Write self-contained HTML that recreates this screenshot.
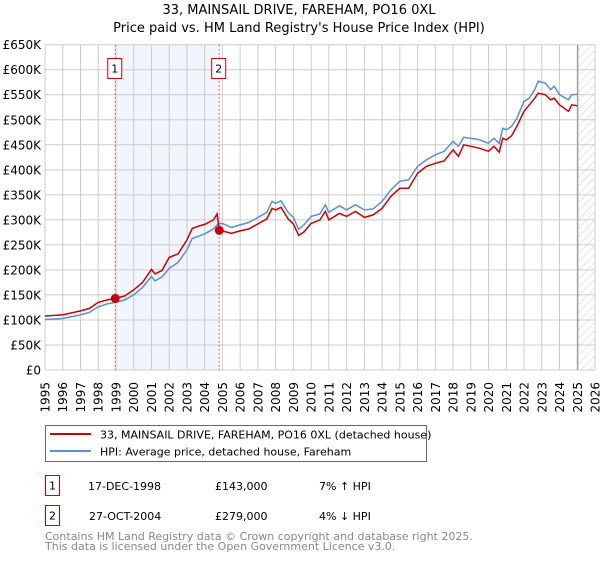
<!DOCTYPE html>
<html><head><meta charset="utf-8"><style>
body{margin:0;background:#fff;width:600px;height:560px;overflow:hidden}
svg text{font-family:"DejaVu Sans","Liberation Sans",sans-serif}
</style></head><body>
<svg id="chart" width="600" height="560" viewBox="0 0 600 560">
<defs><pattern id="hatch" width="6" height="6" patternUnits="userSpaceOnUse" patternTransform="rotate(45)"><line x1="0" y1="0" x2="0" y2="6" stroke="#ccc" stroke-width="1"/></pattern></defs>
<text x="299" y="14" text-anchor="middle" font-size="13">33, MAINSAIL DRIVE, FAREHAM, PO16 0XL</text>
<text x="299" y="32" text-anchor="middle" font-size="13">Price paid vs. HM Land Registry's House Price Index (HPI)</text>
<g id="plot"></g>
<g>
<rect x="45.5" y="425.5" width="381" height="36" fill="#fff" stroke="#666"/>
<line x1="50" y1="434" x2="91" y2="434" stroke="#cc0000" stroke-width="2"/>
<text x="100" y="438.5" font-size="11">33, MAINSAIL DRIVE, FAREHAM, PO16 0XL (detached house)</text>
<line x1="50" y1="451" x2="91" y2="451" stroke="#5b8fd4" stroke-width="2"/>
<text x="100" y="455.5" font-size="11">HPI: Average price, detached house, Fareham</text>
</g>
<g font-size="11">
<rect x="45.5" y="475.5" width="14" height="20" fill="#fff" stroke="#cc0000"/>
<text x="52.5" y="489.5" text-anchor="middle">1</text>
<text x="88" y="490">17-DEC-1998</text>
<text x="215" y="490">£143,000</text>
<text x="319" y="490">7% ↑ HPI</text>
<rect x="45.5" y="505.5" width="14" height="20" fill="#fff" stroke="#cc0000"/>
<text x="52.5" y="519.5" text-anchor="middle">2</text>
<text x="89" y="520">27-OCT-2004</text>
<text x="215" y="520">£279,000</text>
<text x="319" y="520">4% ↓ HPI</text>
</g>
<text x="45" y="540" font-size="11" fill="#888">Contains HM Land Registry data © Crown copyright and database right 2025.</text>
<text x="45" y="550" font-size="11" fill="#888">This data is licensed under the Open Government Licence v3.0.</text>
</svg>
<script>
const years=[1995,1996,1997,1997.5,1998,1998.5,1999,1999.5,2000,2000.5,2001,2001.2,2001.6,2002,2002.5,2003,2003.3,2003.7,2004,2004.5,2004.7,2004.82,2005,2005.5,2006,2006.5,2007,2007.5,2007.8,2008,2008.3,2008.7,2009,2009.3,2009.6,2010,2010.5,2010.8,2011,2011.6,2012,2012.5,2013,2013.5,2014,2014.5,2015,2015.5,2016,2016.5,2017,2017.5,2018,2018.3,2018.6,2019,2019.5,2020,2020.3,2020.6,2020.8,2021,2021.3,2021.6,2022,2022.3,2022.6,2022.8,2023.2,2023.5,2023.7,2024,2024.5,2024.7,2025];
const hpi=[101,103,110,115,126,132,135,140,150,165,187,178,186,203,215,240,263,268,272,282,290,292,293,285,290,295,305,315,337,333,338,315,305,281,290,307,312,330,315,328,320,330,320,322,337,360,377,380,407,420,430,437,457,447,465,463,460,453,463,453,483,480,487,503,537,543,560,577,573,560,567,550,540,550,551];
const price=[108,110,118,123,135,140,143,148,160,175,201,192,199,225,232,260,283,288,291,300,312,279,278,273,278,282,292,302,323,320,325,302,292,269,276,293,300,317,300,313,307,317,305,310,323,347,363,363,393,407,413,418,440,427,450,447,443,437,447,435,463,460,468,487,517,530,543,553,550,540,543,530,517,530,528];
const yTicks=[0,50,100,150,200,250,300,350,400,450,500,550,600,650];
const yTickLabels=["£0","£50K","£100K","£150K","£200K","£250K","£300K","£350K","£400K","£450K","£500K","£550K","£600K","£650K"];
const xTicks=[1995,1996,1997,1998,1999,2000,2001,2002,2003,2004,2005,2006,2007,2008,2009,2010,2011,2012,2013,2014,2015,2016,2017,2018,2019,2020,2021,2022,2023,2024,2025,2026];
const saleYears=[1998.96,2004.82];
const salePrices=[143,279];
const saleLabels=["1","2"];
const dataEnd=2025.03;
const L=45,R=595,T=44.7,B=370,x0=1995,x1=2026,yMax=650;
const X=v=>L+(v-x0)/(x1-x0)*(R-L);
const Y=v=>B-v/yMax*(B-T);
const NS="http://www.w3.org/2000/svg";
const g=document.getElementById('plot');
function mk(tag,attrs){const e=document.createElementNS(NS,tag);for(const k in attrs)e.setAttribute(k,attrs[k]);g.appendChild(e);return e;}
let e;
e=mk('rect',{x:X(saleYears[0]),y:T,width:X(saleYears[1])-X(saleYears[0]),height:B-T,fill:'#eef2fc',opacity:0.8});


e=mk('rect',{x:X(dataEnd),y:T,width:R-X(dataEnd),height:B-T,fill:'url(#hatch)'});


yTicks.forEach((v,i)=>{
 e=mk('line',{x1:L,x2:R,y1:Y(v),y2:Y(v),stroke:'#ccc','stroke-width':1});
 
 
 e=mk('text',{x:L-4,y:Y(v)+4.5,'text-anchor':'end','font-size':12});
 e.textContent=yTickLabels[i];
 
 
});
xTicks.forEach(v=>{
 e=mk('line',{x1:X(v),x2:X(v),y1:T,y2:B,stroke:'#ccc','stroke-width':1});
 
 
 e=mk('text',{x:0,y:0,'text-anchor':'end','font-size':12,transform:`translate(${X(v)+4.5},382) rotate(-90)`});
 e.textContent=v;
 
 
});
e=mk('line',{x1:X(dataEnd),x2:X(dataEnd),y1:T,y2:B,stroke:'#888','stroke-width':1});


saleYears.forEach((v,i)=>{
 e=mk('line',{x1:X(v),x2:X(v),y1:T,y2:B,stroke:'#f06060','stroke-width':1,'stroke-dasharray':'2,2'});
 
 
 e=mk('rect',{x:X(v)-7.5,y:58.5,width:14,height:20,fill:'#fff',stroke:'#cc0000'});
 
 
 e=mk('text',{x:X(v)-0.5,y:72.5,'text-anchor':'middle','font-size':11});
 e.textContent=saleLabels[i];
 
 
});
const pts=a=>a.map((v,i)=>X(years[i]).toFixed(1)+','+Y(v).toFixed(1)).join(' ');
e=mk('polyline',{points:pts(hpi),fill:'none',stroke:'#5b8fd4','stroke-width':1.5});


e=mk('polyline',{points:pts(price),fill:'none',stroke:'#cc0000','stroke-width':1.5});


saleYears.forEach((v,i)=>{
 e=mk('circle',{cx:X(v),cy:Y(salePrices[i]),r:4.5,fill:'#cc0000'});
 
 
});
</script>
</body></html>
